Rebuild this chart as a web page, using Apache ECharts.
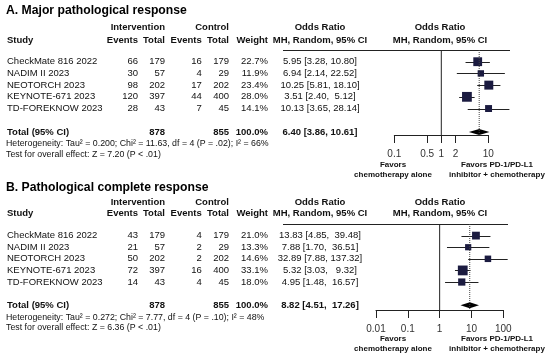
<!DOCTYPE html>
<html><head><meta charset="utf-8">
<script src="https://cdn.jsdelivr.net/npm/echarts@6/dist/echarts.min.js"></script>
<style>html,body{margin:0;padding:0;background:#fff}#c{width:550px;height:359px}</style>
</head><body><div id="c"></div>
<script>
// ---------- data ----------
const studyNames = ['CheckMate 816 2022', 'NADIM II 2023', 'NEOTORCH 2023', 'KEYNOTE-671 2023', 'TD-FOREKNOW 2023'];

// A. Major pathological response
const mprIntEvents = [66, 30, 98, 120, 28];
const mprIntTotal  = [179, 57, 202, 397, 43];
const mprCtlEvents = [16, 4, 17, 44, 7];
const mprCtlTotal  = [179, 29, 202, 400, 45];
const mprWeight    = [22.7, 11.9, 23.4, 28.0, 14.1];
const mprOR        = [5.95, 6.94, 10.25, 3.51, 10.13];
const mprLower     = [3.28, 2.14, 5.81, 2.40, 3.65];
const mprUpper     = [10.80, 22.52, 18.10, 5.12, 28.14];
const mprPooled    = [6.40, 3.86, 10.61];
const mprSums      = [878, 855, 100.0];
const mprHetero    = 'Heterogeneity: Tau² = 0.200; Chi² = 11.63, df = 4 (P = .02); I² = 66%';
const mprOverall   = 'Test for overall effect: Z = 7.20 (P < .01)';
const mprTicks     = [0.1, 0.5, 1, 2, 10];

// B. Pathological complete response
const pcrIntEvents = [43, 21, 50, 72, 14];
const pcrIntTotal  = [179, 57, 202, 397, 43];
const pcrCtlEvents = [4, 2, 2, 16, 4];
const pcrCtlTotal  = [179, 29, 202, 400, 45];
const pcrWeight    = [21.0, 13.3, 14.6, 33.1, 18.0];
const pcrOR        = [13.83, 7.88, 32.89, 5.32, 4.95];
const pcrLower     = [4.85, 1.70, 7.88, 3.03, 1.48];
const pcrUpper     = [39.48, 36.51, 137.32, 9.32, 16.57];
const pcrPooled    = [8.82, 4.51, 17.26];
const pcrSums      = [878, 855, 100.0];
const pcrHetero    = 'Heterogeneity: Tau² = 0.272; Chi² = 7.77, df = 4 (P = .10); I² = 48%';
const pcrOverall   = 'Test for overall effect: Z = 6.36 (P < .01)';
const pcrTicks     = [0.01, 0.1, 1, 10, 100];

const titles = ['A. Major pathological response', 'B. Pathological complete response'];
const headTop = ['Intervention', 'Control', 'Odds Ratio', 'Odds Ratio'];
const headBottom = ['Study', 'Events', 'Total', 'Events', 'Total', 'Weight', 'MH, Random, 95% CI', 'MH, Random, 95% CI'];
const totalLabel = 'Total (95% CI)';
const favorLeft = ['Favors', 'chemotherapy alone'];
const favorRight = ['Favors PD-1/PD-L1', 'inhibitor + chemotherapy'];

// ---------- layout ----------
const FONT = '"Liberation Sans", Arial, Helvetica, sans-serif';
const FS = 9.5;
const COLS = {study: 7, intE: 138, intT: 165, ctlE: 201.7, ctlT: 229, weight: 268, ci: 320, plotHead: 440, favL: 393, favR: 497};
const layouts = [
  {top: 50, bottom: 135, left: 394.3, right: 488.3, yMax: 7.26, titleY: 11, h1: 27.7, h2: 40, lx1: 283, lx2: 510,
   hetY: 144, testY: 155, fav1: 165, fav2: 174.5, sqK: 1.85},
  {top: 224, bottom: 310, left: 376, right: 503.3, yMax: 7.41, titleY: 187.3, h1: 202.3, h2: 213.7, lx1: 283, lx2: 508,
   hetY: 317.3, testY: 328, fav1: 339.2, fav2: 348.5, sqK: 1.7}
];
const TOTAL_ROW = 7;

function T(text, x, y, align, size, bold, color) {
  return {type: 'text', x: x, y: y, silent: true,
    style: {text: text, fill: color || '#111', fontSize: size, fontFamily: FONT, fontWeight: bold ? 'bold' : 'normal',
      align: align, verticalAlign: 'middle', textAlign: align, textVerticalAlign: 'middle'}};
}
function ciText(or, lo, hi, w) {
  return or.toFixed(2) + ' [' + lo.toFixed(2) + ', ' + hi.toFixed(2).padStart(w, ' ') + ']';
}

const panels = [
  {ie: mprIntEvents, it: mprIntTotal, ce: mprCtlEvents, ct: mprCtlTotal, w: mprWeight, or: mprOR, lo: mprLower, hi: mprUpper,
   pooled: mprPooled, sums: mprSums, het: mprHetero, overall: mprOverall, ticks: mprTicks},
  {ie: pcrIntEvents, it: pcrIntTotal, ce: pcrCtlEvents, ct: pcrCtlTotal, w: pcrWeight, or: pcrOR, lo: pcrLower, hi: pcrUpper,
   pooled: pcrPooled, sums: pcrSums, het: pcrHetero, overall: pcrOverall, ticks: pcrTicks}
];

const grids = [], xAxes = [], yAxes = [], series = [], graphics = [];

panels.forEach((p, pi) => {
  const L = layouts[pi];
  grids.push({left: L.left, top: L.top, width: L.right - L.left, height: L.bottom - L.top});
  xAxes.push({type: 'log', logBase: 10, gridIndex: pi, min: p.ticks[0], max: p.ticks[p.ticks.length - 1],
    axisLine: {show: true, onZero: false, lineStyle: {color: '#222', width: 1}},
    axisTick: {show: true, inside: false, length: 8, customValues: p.ticks, lineStyle: {color: '#222', width: 1}},
    axisLabel: {show: true, customValues: p.ticks, margin: 14, fontSize: 10, color: '#333', fontFamily: FONT,
      formatter: v => String(+Number(v).toPrecision(3))},
    splitLine: {show: false}, minorTick: {show: false}, minorSplitLine: {show: false}});
  yAxes.push({type: 'value', gridIndex: pi, inverse: true, min: 0, max: L.yMax, show: false});

  const padW = Math.max(...p.hi.map(v => v.toFixed(2).length), p.pooled[2].toFixed(2).length);

  // table rows
  series.push({type: 'custom', xAxisIndex: pi, yAxisIndex: pi, silent: true, animation: false, clip: false,
    data: studyNames.map((n, i) => [1, i + 1]),
    renderItem: (params, api) => {
      const i = params.dataIndex;
      const y = api.coord([api.value(0), api.value(1)])[1];
      return {type: 'group', children: [
        T(studyNames[i], COLS.study, y, 'left', FS),
        T(String(p.ie[i]), COLS.intE, y, 'right', FS),
        T(String(p.it[i]), COLS.intT, y, 'right', FS),
        T(String(p.ce[i]), COLS.ctlE, y, 'right', FS),
        T(String(p.ct[i]), COLS.ctlT, y, 'right', FS),
        T(p.w[i].toFixed(1) + '%', COLS.weight, y, 'right', FS),
        T(ciText(p.or[i], p.lo[i], p.hi[i], padW), COLS.ci, y, 'center', FS)
      ]};
    }});
  // total row text
  series.push({type: 'custom', xAxisIndex: pi, yAxisIndex: pi, silent: true, animation: false, clip: false,
    data: [[1, TOTAL_ROW]],
    renderItem: (params, api) => {
      const y = api.coord([api.value(0), api.value(1)])[1];
      return {type: 'group', children: [
        T(totalLabel, COLS.study, y, 'left', FS, true),
        T(String(p.sums[0]), COLS.intT, y, 'right', FS, true),
        T(String(p.sums[1]), COLS.ctlT, y, 'right', FS, true),
        T(p.sums[2].toFixed(1) + '%', COLS.weight, y, 'right', FS, true),
        T(ciText(p.pooled[0], p.pooled[1], p.pooled[2], padW), COLS.ci, y, 'center', FS, true)
      ]};
    }});
  // reference lines: no effect (OR = 1) and pooled estimate
  series.push({type: 'line', xAxisIndex: pi, yAxisIndex: pi, silent: true, animation: false, symbol: 'none',
    data: [[1, 0], [1, L.yMax]], lineStyle: {color: '#222', width: 1}});
  series.push({type: 'line', xAxisIndex: pi, yAxisIndex: pi, silent: true, animation: false, symbol: 'none',
    data: [[p.pooled[0], 0], [p.pooled[0], L.yMax]], lineStyle: {color: '#444', width: 1, type: 'dotted'}});
  // study squares + CIs
  series.push({type: 'custom', xAxisIndex: pi, yAxisIndex: pi, silent: true, animation: false, clip: false,
    data: p.or.map((v, i) => [v, p.lo[i], p.hi[i], p.w[i], i + 1]),
    encode: {x: [0, 1, 2], y: 4},
    renderItem: (params, api) => {
      const r = api.value(4);
      const c = api.coord([api.value(0), r]);
      const xl = api.coord([api.value(1), r])[0];
      const xh = api.coord([api.value(2), r])[0];
      const s = L.sqK * Math.sqrt(api.value(3));
      const yy = Math.round(c[1]) + 0.5;
      return {type: 'group', children: [
        {type: 'line', shape: {x1: xl, y1: yy, x2: xh, y2: yy}, style: {stroke: '#222', lineWidth: 1}},
        {type: 'rect', shape: {x: c[0] - s / 2, y: c[1] - s / 2, width: s, height: s}, style: {fill: '#1b1b40'}}
      ]};
    }});
  // pooled diamond
  series.push({type: 'custom', xAxisIndex: pi, yAxisIndex: pi, silent: true, animation: false, clip: false,
    data: [[p.pooled[0], p.pooled[1], p.pooled[2], TOTAL_ROW]],
    encode: {x: [0, 1, 2], y: 3},
    renderItem: (params, api) => {
      const r = api.value(3);
      const c = api.coord([api.value(0), r]);
      const xl = api.coord([api.value(1), r])[0];
      const xh = api.coord([api.value(2), r])[0];
      return {type: 'polygon', shape: {points: [[xl, c[1]], [c[0], c[1] - 3], [xh, c[1]], [c[0], c[1] + 3]]},
        style: {fill: '#000'}};
    }});

  // static texts
  graphics.push(T(titles[pi], 6, L.titleY, 'left', 12.2, true, '#000'));
  graphics.push(T(headTop[0], COLS.intT, L.h1, 'right', FS, true));
  graphics.push(T(headTop[1], COLS.ctlT, L.h1, 'right', FS, true));
  graphics.push(T(headTop[2], COLS.ci, L.h1, 'center', FS, true));
  graphics.push(T(headTop[3], COLS.plotHead, L.h1, 'center', FS, true));
  graphics.push(T(headBottom[0], COLS.study, L.h2, 'left', FS, true));
  graphics.push(T(headBottom[1], COLS.intE, L.h2, 'right', FS, true));
  graphics.push(T(headBottom[2], COLS.intT, L.h2, 'right', FS, true));
  graphics.push(T(headBottom[3], COLS.ctlE, L.h2, 'right', FS, true));
  graphics.push(T(headBottom[4], COLS.ctlT, L.h2, 'right', FS, true));
  graphics.push(T(headBottom[5], COLS.weight, L.h2, 'right', FS, true));
  graphics.push(T(headBottom[6], COLS.ci, L.h2, 'center', FS, true));
  graphics.push(T(headBottom[7], COLS.plotHead, L.h2, 'center', FS, true));
  graphics.push({type: 'line', silent: true, shape: {x1: L.lx1, y1: L.top + 0.5, x2: L.lx2, y2: L.top + 0.5},
    style: {stroke: '#222', lineWidth: 1}});
  graphics.push(T(p.het, COLS.study - 1, L.hetY, 'left', 8.8, false));
  graphics.push(T(p.overall, COLS.study - 1, L.testY, 'left', 8.8, false));
  graphics.push(T(favorLeft[0], COLS.favL, L.fav1, 'center', 8, true));
  graphics.push(T(favorLeft[1], COLS.favL, L.fav2, 'center', 8, true));
  graphics.push(T(favorRight[0], COLS.favR, L.fav1, 'center', 8, true));
  graphics.push(T(favorRight[1], COLS.favR, L.fav2, 'center', 8, true));
});

const chart = echarts.init(document.getElementById('c'), null, {renderer: 'canvas'});
chart.setOption({
  animation: false,
  backgroundColor: '#fff',
  grid: grids, xAxis: xAxes, yAxis: yAxes, series: series,
  graphic: {elements: graphics}
});
</script></body></html>
